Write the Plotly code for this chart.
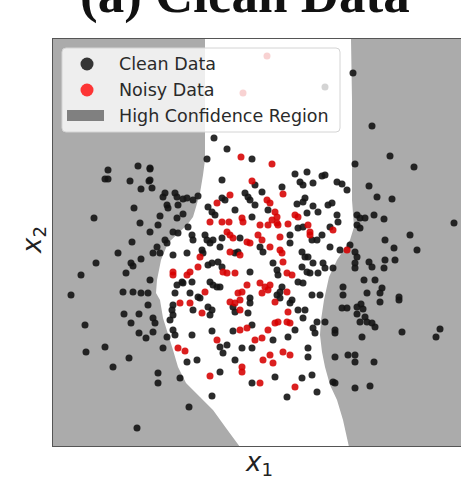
import plotly.graph_objects as go

# ---- clean samples (x1, x2) ----
clean_x1 = [
    353, 372, 325, 108, 138, 150, 105, 108, 130, 149, 141, 94, 134, 140, 132, 118, 141,
    131, 133, 96, 126, 81, 141, 133, 123, 148, 71,
    148, 124, 139, 85, 131, 139, 146, 105, 86, 129, 113,
    189, 137, 212, 287,
    214, 227, 207, 252, 222, 150, 150, 152, 165, 163, 175, 177, 183, 187, 193, 198, 222, 225,
    245, 248, 250, 167, 168, 178, 208, 235, 183, 212, 215, 177, 160, 252, 158, 173, 178, 188,
    150, 192, 193, 205, 207, 213, 222, 240, 165, 167, 202, 203, 210, 220, 235, 238, 157, 153,
    160, 173, 187,
    295, 307, 322, 325, 300, 303, 313, 337, 342, 347, 255, 282, 262, 355, 305, 303, 297, 313,
    318, 328, 332, 255, 268, 307, 337, 338, 330, 298, 303, 322, 290, 312, 317, 350, 355, 260,
    263, 290, 302, 305, 308, 330, 340,
    390, 414, 369, 377, 392, 357, 360, 365, 374, 384, 454, 357, 360, 410, 385, 357, 394, 417,
    369, 372, 384, 385, 395, 364, 375, 367, 382, 380, 399,
    150, 208, 212, 218, 177, 182, 183, 192, 210, 213, 217, 220, 222, 250, 250, 175, 190, 198,
    200, 173, 172, 173, 170, 193, 208, 212, 210, 233, 235, 248, 250, 153, 155, 173, 175, 153,
    192, 212, 233, 252, 167, 163, 220, 227, 223, 242, 252, 187, 197, 235, 220, 158, 158, 180,
    252,
    273, 277, 278, 282, 280, 277, 280, 292, 290, 298, 305, 303, 312, 320, 302, 307, 310, 318,
    325, 313, 323, 333, 298, 303, 343, 343, 342, 347, 355, 355, 273, 288, 295, 313, 315, 335,
    335, 325, 317, 308, 308, 348, 355, 335, 355, 275, 302, 312, 333, 335, 317, 355,
    380, 399, 357, 361, 363, 357, 365, 360, 367, 372, 375, 362, 402, 440, 436, 374, 370,
]
clean_x2 = [
    73, 126, 87, 170, 166, 169, 179, 179, 181, 181, 189, 218, 208, 223, 242, 253, 259,
    263, 266, 263, 273, 275, 293, 292, 292, 293, 295,
    305, 314, 314, 325, 323, 333, 338, 347, 352, 358, 367,
    407, 428, 396, 397,
    138, 149, 159, 159, 180, 168, 180, 188, 193, 197, 193, 197, 199, 198, 200, 196, 198, 200,
    193, 197, 200, 205, 208, 205, 207, 210, 214, 212, 215, 218, 216, 217, 225, 232, 233, 227,
    232, 235, 240, 235, 240, 240, 238, 238, 240, 243, 250, 253, 243, 247, 253, 252, 247, 253,
    253, 255, 253,
    174, 172, 176, 175, 182, 185, 183, 182, 184, 190, 185, 187, 192, 164, 198, 202, 204, 206,
    212, 205, 203, 205, 210, 213, 215, 222, 227, 228, 227, 235, 235, 240, 240, 245, 252, 247,
    252, 243, 252, 257, 257, 247, 250,
    156, 167, 186, 197, 199, 215, 218, 218, 215, 219, 223, 225, 228, 235, 240, 257, 248, 250,
    262, 267, 268, 260, 260, 280, 280, 293, 288, 293, 297,
    280, 265, 263, 262, 285, 282, 283, 282, 282, 285, 287, 287, 267, 272, 298, 293, 293, 297,
    298, 305, 310, 315, 320, 310, 307, 310, 315, 307, 312, 313, 303, 318, 323, 330, 335, 332,
    335, 331, 331, 325, 337, 348, 347, 345, 353, 348, 348, 362, 360, 360, 372, 373, 383, 378,
    383,
    263, 270, 275, 287, 292, 295, 298, 300, 303, 310, 310, 318, 295, 295, 267, 272, 273, 273,
    268, 263, 263, 268, 282, 283, 287, 295, 308, 308, 263, 268, 340, 337, 330, 328, 333, 330,
    333, 322, 322, 348, 357, 355, 355, 357, 362, 377, 378, 375, 382, 383, 392, 388,
    302, 300, 307, 304, 309, 314, 317, 322, 322, 323, 327, 337, 332, 329, 337, 362, 386,
]

# ---- noisy samples (x1, x2) ----
noisy_x1 = [
    267, 243,
    241, 252, 230, 217, 210, 222, 229, 242, 243, 227, 230, 233, 247, 250, 230, 240, 200,
    272, 283, 267, 270, 275, 277, 277, 278, 295, 298, 333, 288, 272, 268, 260, 308, 310, 310,
    258, 262, 280, 270, 280, 282, 347,
    173, 173, 187, 190, 198, 223, 227, 235, 247, 238, 230, 235, 240, 242, 205, 180, 190, 202,
    240, 240, 247, 178, 185, 217, 242, 242, 210,
    283, 287, 292, 260, 265, 270, 268, 262, 287, 275, 288, 275, 278, 287, 290, 268, 255, 262,
    270, 263, 273, 283, 290, 295, 260,
]
noisy_x2 = [
    56, 93,
    157, 181, 195, 203, 222, 222, 222, 218, 222, 232, 235, 238, 242, 243, 252, 255, 257,
    164, 194, 200, 203, 212, 217, 223, 225, 215, 217, 230, 224, 220, 225, 225, 225, 232, 235,
    235, 240, 237, 247, 250, 253, 250,
    275, 272, 275, 272, 267, 272, 273, 273, 285, 293, 302, 303, 300, 292, 292, 303, 303, 313,
    310, 330, 328, 348, 351, 340, 367, 372, 376,
    262, 273, 275, 283, 287, 285, 290, 293, 292, 302, 312, 323, 322, 322, 323, 330, 340, 338,
    355, 360, 363, 352, 355, 387, 383,
]

# ---- decision boundary of the low-confidence band (x1, x2) ----
left_edge_x1 = [205, 205, 205, 203, 200, 196, 193, 187, 180, 168, 161, 157, 156, 160,
                163, 168, 173, 178, 186, 200, 213, 226, 240]
left_edge_x2 = [39, 100, 160, 175, 193, 207, 217, 225, 232, 243, 260, 280, 293, 300,
                318, 333, 350, 367, 383, 397, 410, 428, 447]
right_edge_x1 = [351, 352, 352, 352, 354, 350, 345, 337, 329, 324, 321, 320, 322, 325,
                 330, 337, 343, 349]
right_edge_x2 = [39, 100, 160, 200, 227, 240, 248, 260, 277, 300, 320, 335, 352, 367,
                 385, 400, 420, 447]

legend_labels = ["Clean Data", "Noisy Data", "High Confidence Region"]

# ---- figure geometry (pixels) ----
W, H = 461, 479
ML, MR, MT, MB = 53, 0, 39, 33
PW, PH = W - ML - MR, H - MT - MB

X_MIN, X_MAX = 53, 461
Y_TOP, Y_BOT = 39, 446

GRAY = "#ababab"
CLEAN_COLOR = "rgba(20,20,20,0.9)"
NOISY_COLOR = "rgba(214,0,0,0.88)"


def fx(p):
    """pixel column -> paper x"""
    return (p - ML) / PW


def fy(p):
    """pixel row -> paper y"""
    return (H - MB - p) / PH


fig = go.Figure()

# high-confidence region: left of the left edge and right of the right edge
poly_x = ([X_MIN - 5] + left_edge_x1 + [X_MIN - 5, None, X_MAX + 5] + right_edge_x1 + [X_MAX + 5])
poly_y = ([Y_TOP - 5] + left_edge_x2 + [Y_BOT + 5, None, Y_TOP - 5] + right_edge_x2 + [Y_BOT + 5])
fig.add_trace(go.Scatter(
    x=poly_x, y=poly_y, mode="lines", fill="toself", fillcolor=GRAY,
    line=dict(width=0, color=GRAY), hoverinfo="skip", showlegend=False,
))

fig.add_trace(go.Scatter(
    x=clean_x1, y=clean_x2, mode="markers", name=legend_labels[0], showlegend=False,
    marker=dict(size=7, color=CLEAN_COLOR, line=dict(width=0)),
))
fig.add_trace(go.Scatter(
    x=noisy_x1, y=noisy_x2, mode="markers", name=legend_labels[1], showlegend=False,
    marker=dict(size=7, color=NOISY_COLOR, line=dict(width=0)),
))

# ---- legend box drawn with shapes + annotations ----
bx0, bx1, by0, by1, r = 62, 340, 48, 132, 4
box_path = (
    f"M{fx(bx0 + r)},{fy(by0)} L{fx(bx1 - r)},{fy(by0)} Q{fx(bx1)},{fy(by0)} {fx(bx1)},{fy(by0 + r)} "
    f"L{fx(bx1)},{fy(by1 - r)} Q{fx(bx1)},{fy(by1)} {fx(bx1 - r)},{fy(by1)} "
    f"L{fx(bx0 + r)},{fy(by1)} Q{fx(bx0)},{fy(by1)} {fx(bx0)},{fy(by1 - r)} "
    f"L{fx(bx0)},{fy(by0 + r)} Q{fx(bx0)},{fy(by0)} {fx(bx0 + r)},{fy(by0)} Z"
)
row_y = [64, 90, 116]
sym_x, text_x, rad = 87, 117, 6.5
shapes = [
    dict(type="path", path=box_path, xref="paper", yref="paper", layer="above",
         fillcolor="rgba(255,255,255,0.8)", line=dict(color="#d4d4d4", width=1)),
    dict(type="circle", xref="paper", yref="paper", layer="above",
         x0=fx(sym_x - rad), x1=fx(sym_x + rad), y0=fy(row_y[0] + rad), y1=fy(row_y[0] - rad),
         fillcolor="rgba(20,20,20,0.85)", line=dict(width=0)),
    dict(type="circle", xref="paper", yref="paper", layer="above",
         x0=fx(sym_x - rad), x1=fx(sym_x + rad), y0=fy(row_y[1] + rad), y1=fy(row_y[1] - rad),
         fillcolor="rgba(255,20,20,0.85)", line=dict(width=0)),
    dict(type="rect", xref="paper", yref="paper", layer="above",
         x0=fx(67), x1=fx(104), y0=fy(121), y1=fy(110),
         fillcolor="#808080", line=dict(width=0)),
]
legend_notes = [
    dict(text=lab, xref="paper", yref="paper", x=fx(text_x), y=fy(yy),
         xanchor="left", yanchor="middle", showarrow=False,
         font=dict(family="DejaVu Sans", size=17.5, color="#2a2a2a"))
    for lab, yy in zip(legend_labels, row_y)
]

fig.update_layout(
    width=W, height=H,
    margin=dict(l=ML, r=MR, t=MT, b=MB),
    paper_bgcolor="white", plot_bgcolor="white",
    showlegend=False,
    xaxis=dict(range=[X_MIN, X_MAX], showgrid=False, zeroline=False, showticklabels=False,
               ticks="", showline=True, linecolor="#555555", linewidth=1, mirror=True),
    yaxis=dict(range=[Y_BOT, Y_TOP], showgrid=False, zeroline=False, showticklabels=False,
               ticks="", showline=True, linecolor="#555555", linewidth=1),
    shapes=shapes,
    annotations=legend_notes + [
        dict(text="<i>x</i><sub>1</sub>", xref="paper", yref="paper", x=fx(259), y=fy(463),
             xanchor="center", yanchor="middle", showarrow=False,
             font=dict(family="DejaVu Sans", size=26, color="#222222")),
        dict(text="<i>x</i><sub>2</sub>", xref="paper", yref="paper", x=fx(33), y=fy(240),
             xanchor="center", yanchor="middle", showarrow=False, textangle=-90,
             font=dict(family="DejaVu Sans", size=26, color="#222222")),
        dict(text="<b>(a) Clean Data</b>", xref="paper", yref="paper", x=fx(245), y=fy(26),
             xanchor="center", yanchor="bottom", showarrow=False,
             font=dict(family="Liberation Serif", size=53, color="#111111")),
    ],
)

fig.write_html("out.html")
